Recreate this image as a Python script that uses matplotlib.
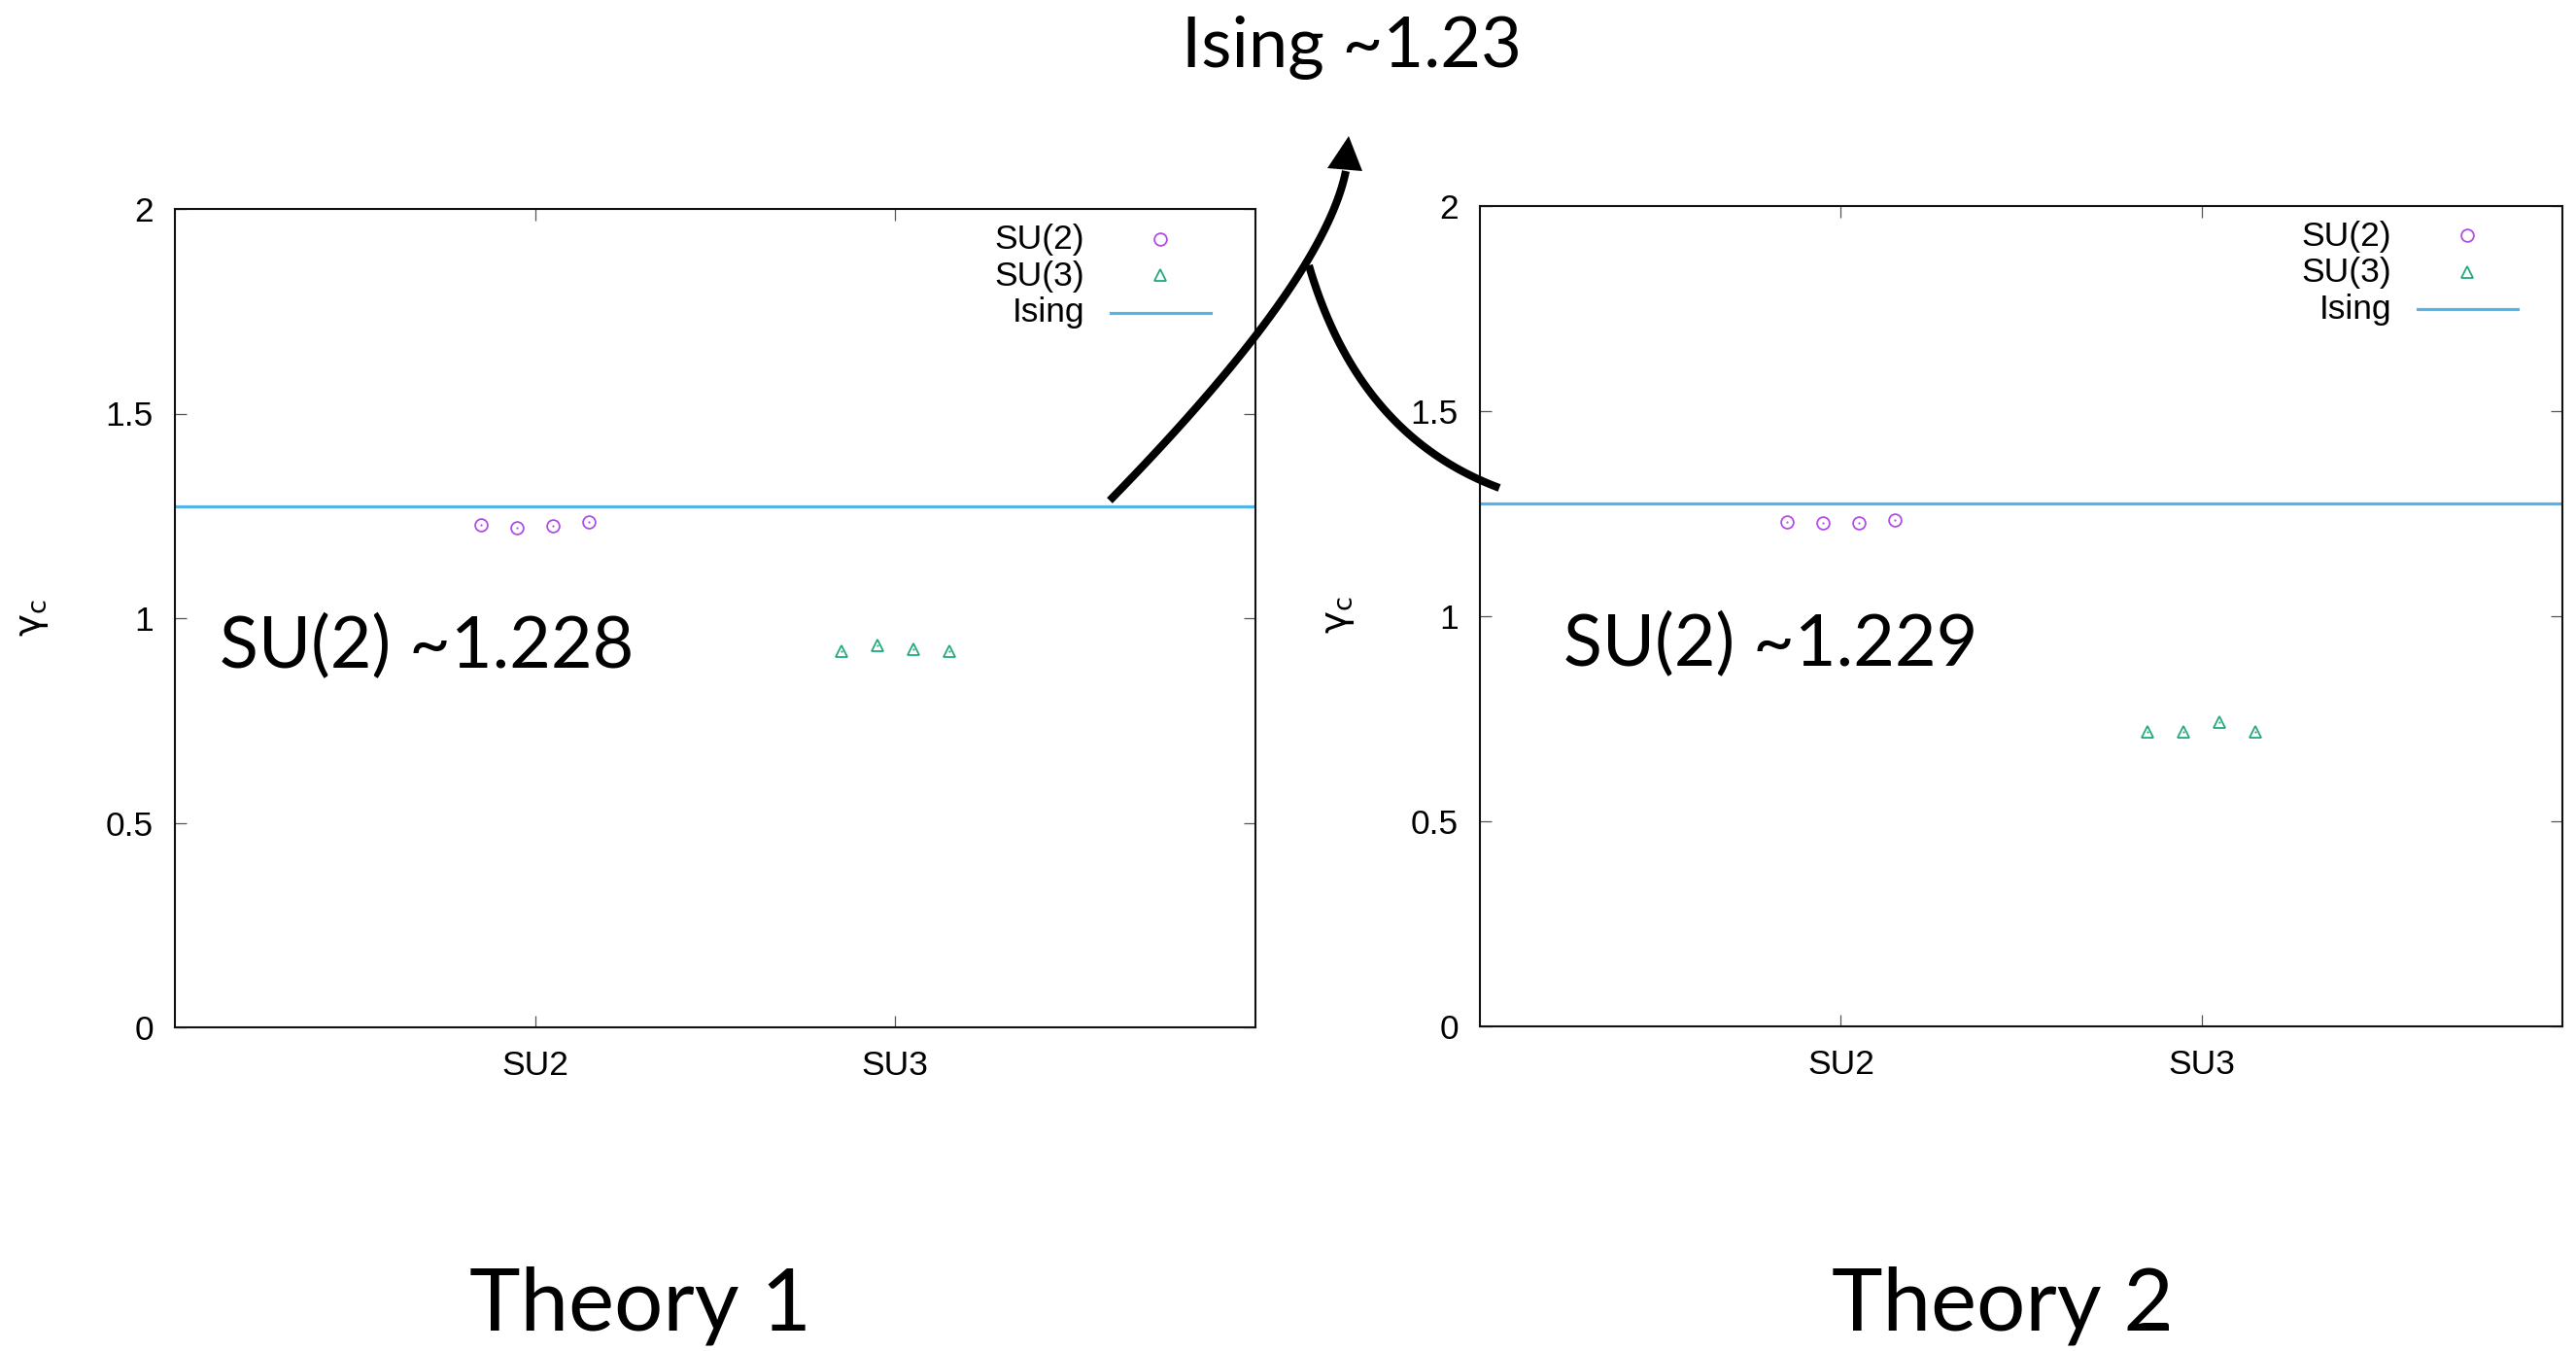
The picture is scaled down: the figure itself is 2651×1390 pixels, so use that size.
import numpy as np
import matplotlib
matplotlib.use("Agg")
import matplotlib.pyplot as plt
from matplotlib.patches import Polygon

# ---- data -------------------------------------------------------------
categories = ["SU2", "SU3"]
category_pos = [1, 2]
run_offsets = [-0.15, -0.05, 0.05, 0.15]

theory1_su2 = [1.228, 1.220, 1.226, 1.234]
theory1_su3 = [0.919, 0.933, 0.923, 0.919]
theory2_su2 = [1.228, 1.227, 1.227, 1.234]
theory2_su3 = [0.717, 0.717, 0.742, 0.717]
ising_gamma = 1.273

yticks = [0, 0.5, 1, 1.5, 2]
ytick_labels = ["0", "0.5", "1", "1.5", "2"]

legend_labels = ["SU(2)", "SU(3)", "Ising"]
panel_notes = ["SU(2) ~1.228", "SU(2) ~1.229"]
panel_titles = ["Theory 1", "Theory 2"]
top_note = "Ising ~1.23"

# ---- style ------------------------------------------------------------
W, H = 2651, 1390
DPI = 100
C_SU2 = "#b04ee6"
C_SU3 = "#24a97c"
C_ISING = "#56b4e9"
TICK_FONT = "Liberation Sans"
SLIDE_FONT = "Lato"
TICK_SIZE = 25.5

plt.rcParams["font.family"] = [TICK_FONT, "DejaVu Sans"]
plt.rcParams["mathtext.fontset"] = "dejavusans"
plt.rcParams["mathtext.default"] = "regular"

fig = plt.figure(figsize=(W / DPI, H / DPI), dpi=DPI)
fig.patch.set_facecolor("white")

axes_rects = [
    [180 / W, (H - 1057) / H, 1112 / W, 842 / H],
    [1523 / W, (H - 1055.7) / H, 1114 / W, 844 / H],
]
panels = [(theory1_su2, theory1_su3), (theory2_su2, theory2_su3)]


def draw_panel(ax, su2_vals, su3_vals):
    x_su2 = [category_pos[0] + d for d in run_offsets]
    x_su3 = [category_pos[1] + d for d in run_offsets]
    ax.axhline(ising_gamma, color=C_ISING, lw=2.3, zorder=2)
    ax.plot(x_su2, su2_vals, ls="none", marker="o", ms=9.2, mfc="none",
            mec=C_SU2, mew=1.3, zorder=3)
    ax.plot(x_su2, su2_vals, ls="none", marker=".", ms=1.2, color=C_SU2, zorder=3)
    ax.plot(x_su3, su3_vals, ls="none", marker="^", ms=9.0, mfc="none",
            mec=C_SU3, mew=1.3, zorder=3)
    ax.plot(x_su3, su3_vals, ls="none", marker=".", ms=1.2, color=C_SU3, zorder=3)

    ax.set_xlim(0, 3)
    ax.set_ylim(0, 2)
    ax.set_xticks(category_pos)
    ax.set_xticklabels(categories)
    ax.set_yticks(yticks)
    ax.set_yticklabels(ytick_labels)
    ax.tick_params(direction="in", length=8.5, width=0.9, color="#555555",
                   top=True, right=True, labelsize=TICK_SIZE)
    ax.tick_params(axis="y", pad=16)
    ax.tick_params(axis="x", pad=16.5)
    for sp in ax.spines.values():
        sp.set_linewidth(1.5)
        sp.set_color("#111111")

    # key in the upper right corner: right-aligned text, then sample
    rows_y = [0.9620, 0.9180, 0.8730]
    for lab, yy in zip(legend_labels, rows_y):
        ax.text(0.842, yy, lab, transform=ax.transAxes, ha="right",
                va="center", fontsize=TICK_SIZE)
    ax.plot([0.912], [0.9636], transform=ax.transAxes, marker="o", ms=9.2,
            mfc="none", mec=C_SU2, mew=1.3, clip_on=False)
    ax.plot([0.912], [0.9195], transform=ax.transAxes, marker="^", ms=9.0,
            mfc="none", mec=C_SU3, mew=1.3, clip_on=False)
    ax.plot([0.866, 0.959], [0.8735, 0.8735], transform=ax.transAxes,
            color=C_ISING, lw=2.3, clip_on=False)


for rect, (s2, s3) in zip(axes_rects, panels):
    ax = fig.add_axes(rect)
    draw_panel(ax, s2, s3)

# ---- slide overlay in pixel coordinates ------------------------------
ov = fig.add_axes([0, 0, 1, 1], zorder=10)
ov.set_xlim(0, W)
ov.set_ylim(H, 0)
ov.axis("off")
ov.patch.set_alpha(0)

# y-axis titles (upright gamma with subscript c)
ylab = r"$\mathrm{\gamma}_{\mathrm{c}}$"
ov.text(34, 636, ylab, rotation=90, ha="center", va="center", fontsize=28)
ov.text(1378, 633, ylab, rotation=90, ha="center", va="center", fontsize=28)

ov.text(226, 687, panel_notes[0], fontsize=53, family=SLIDE_FONT,
        ha="left", va="baseline")
ov.text(1609, 685, panel_notes[1], fontsize=53, family=SLIDE_FONT,
        ha="left", va="baseline")
ov.text(1391, 69, top_note, fontsize=52, family=SLIDE_FONT,
        ha="center", va="baseline")
ov.text(659, 1368, panel_titles[0], fontsize=64, family=SLIDE_FONT,
        ha="center", va="baseline")
ov.text(2061, 1368, panel_titles[1], fontsize=64, family=SLIDE_FONT,
        ha="center", va="baseline")


def bezier(p0, c, p2, n=80):
    t = np.linspace(0, 1, n)[:, None]
    p0, c, p2 = map(np.asarray, (p0, c, p2))
    return (1 - t) ** 2 * p0 + 2 * t * (1 - t) * c + t ** 2 * p2


# rising arrow towards the Ising note
arc1 = bezier((1142, 515), (1362, 290), (1385, 176))
ov.plot(arc1[:, 0], arc1[:, 1], color="black", lw=5.8, solid_capstyle="butt")
ov.add_patch(Polygon([(1388, 140), (1366, 173), (1402, 176)], closed=True,
                     color="black", lw=0))

# second arc joining from the right panel
arc2 = bezier((1347, 273), (1398, 448), (1543, 502))
ov.plot(arc2[:, 0], arc2[:, 1], color="black", lw=5.8, solid_capstyle="butt")

fig.savefig("out.png", dpi=DPI, facecolor="white")
